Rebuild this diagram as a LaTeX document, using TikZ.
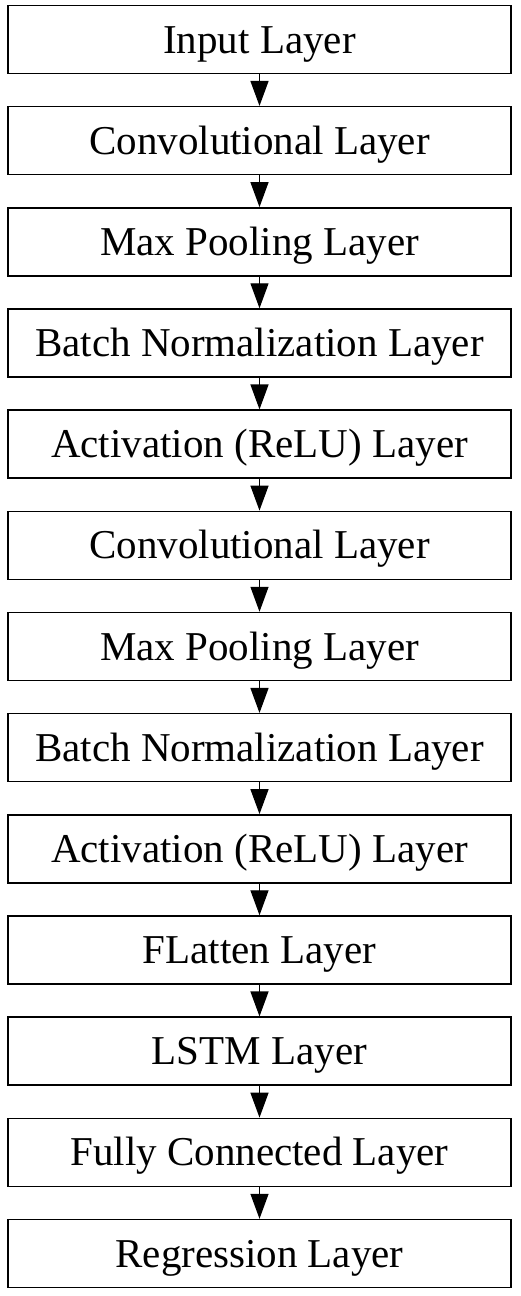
\documentclass[tikz,border=0pt]{standalone}
\usepackage{fontspec}
\setmainfont{Liberation Serif}
\usetikzlibrary{arrows.meta}
\begin{document}
\begin{tikzpicture}[x=1pt,y=1pt,
  layer/.style={draw=black, line width=1.5pt, fill=white, minimum width=503pt, minimum height=68pt,
    inner sep=0pt, text height=27pt, text depth=0pt, font=\fontsize{41}{41}\selectfont},
  flow/.style={line width=1.3pt, -{Triangle[length=25pt,width=18pt]}}]
\useasboundingbox (0,0) rectangle (521,-1296);
\fill[white] (0,0) rectangle (521,-1296);
\foreach \name/\txt [count=\i from 0] in {
  n0/Input Layer,
  n1/Convolutional Layer,
  n2/Max Pooling Layer,
  n3/Batch Normalization Layer,
  n4/Activation (ReLU) Layer,
  n5/Convolutional Layer,
  n6/Max Pooling Layer,
  n7/Batch Normalization Layer,
  n8/Activation (ReLU) Layer,
  n9/FLatten Layer,
  n10/LSTM Layer,
  n11/Fully Connected Layer,
  n12/Regression Layer}
{
  \node[layer] (\name) at (259.5, {-39.5-101.17*\i}) {\txt};
}
\foreach \a/\b in {n0/n1,n1/n2,n2/n3,n3/n4,n4/n5,n5/n6,n6/n7,n7/n8,n8/n9,n9/n10,n10/n11,n11/n12}
{
  \draw[flow] (\a.south) -- (\b.north);
}
\end{tikzpicture}
\end{document}
